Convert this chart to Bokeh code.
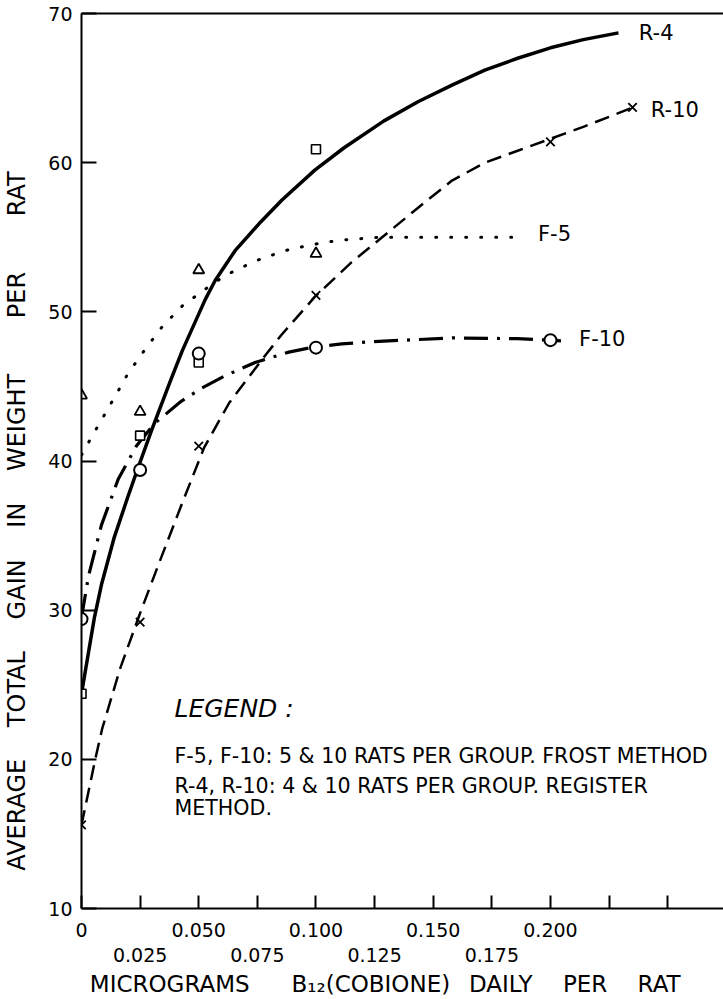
from bokeh.plotting import figure
from bokeh.models import Range1d, LinearAxis, FixedTicker, Label
from bokeh.embed import file_html
from bokeh.resources import INLINE

# ---------------- data ----------------
# measured points
r4_x = [0, 0.025, 0.05, 0.1]
r4_y = [24.4, 41.7, 46.6, 60.9]
r10_x = [0, 0.025, 0.05, 0.1, 0.2, 0.235]
r10_y = [15.6, 29.2, 41.0, 51.1, 61.4, 63.7]
f5_x = [0, 0.025, 0.05, 0.1]
f5_y = [44.4, 43.3, 52.8, 53.9]
f10_x = [0, 0.025, 0.05, 0.1, 0.2]
f10_y = [29.4, 39.4, 47.2, 47.6, 48.1]

# hand-drawn fitted curves
r4_curve_x = [0, 0.0055, 0.0085, 0.014, 0.020, 0.0247, 0.030, 0.038, 0.043, 0.0527,
              0.057, 0.0655, 0.0757, 0.0855, 0.0995, 0.112, 0.129, 0.1437, 0.158,
              0.172, 0.186, 0.200, 0.214, 0.229]
r4_curve_y = [24.4, 29.5, 31.7, 34.9, 37.7, 39.8, 42.1, 45.4, 47.4, 50.8,
              52.1, 54.1, 55.9, 57.5, 59.5, 61.0, 62.8, 64.1, 65.2,
              66.2, 67.0, 67.7, 68.25, 68.7]

r10_curve_x = [0, 0.006, 0.0089, 0.0165, 0.025, 0.0327, 0.0425, 0.0523, 0.063, 0.078,
               0.0855, 0.0995, 0.115, 0.129, 0.1437, 0.158, 0.172, 0.186, 0.200,
               0.214, 0.2287, 0.235]
r10_curve_y = [15.6, 20.1, 22.1, 26.1, 29.8, 33.0, 37.0, 40.9, 43.9, 47.0,
               48.5, 51.0, 53.3, 55.1, 57.0, 58.8, 60.0, 60.8, 61.6,
               62.4, 63.3, 63.7]

f5_curve_x = [0, 0.005, 0.0098, 0.016, 0.0196, 0.0272, 0.0344, 0.043,
              0.057, 0.0634, 0.074, 0.0867, 0.098, 0.110, 0.127, 0.15, 0.17, 0.189]
f5_curve_y = [40.4, 41.8, 43.1, 44.8, 45.8, 47.5, 49.0, 50.4,
              52.0, 52.6, 53.4, 54.1, 54.5, 54.8, 55.0, 55.0, 55.0, 55.0]

f10_curve_x = [0, 0.003, 0.0085, 0.0157, 0.0234, 0.031, 0.0425, 0.0514, 0.061, 0.074,
               0.0884, 0.0995, 0.111, 0.124, 0.158, 0.186, 0.200, 0.2045]
f10_curve_y = [29.5, 32.3, 35.7, 38.8, 41.0, 42.5, 44.0, 44.9, 45.7, 46.6,
               47.3, 47.65, 47.85, 48.0, 48.25, 48.2, 48.1, 48.05]

# axes
x_ticks = [0, 0.025, 0.05, 0.075, 0.1, 0.125, 0.15, 0.175, 0.2, 0.225, 0.25]
x_labels_upper = {0: "0", 0.05: "0.050", 0.1: "0.100", 0.15: "0.150", 0.2: "0.200"}
x_labels_lower = {0.025: "0.025", 0.075: "0.075", 0.125: "0.125", 0.175: "0.175"}
y_ticks = [10, 20, 30, 40, 50, 60, 70]

# curve names and end positions
curve_labels = ["R-4", "R-10", "F-5", "F-10"]
curve_label_x = [0.2377, 0.2428, 0.1947, 0.2122]
curve_label_y = [68.7, 63.5, 55.2, 48.2]

# titles (wide word spacing of the lettering kept with em/en spaces)
EM, EN = "\u2003", "\u2002"
y_title = ("AVERAGE " + EM + "TOTAL " + EM + "GAIN " + EM + "IN " + EM +
           "WEIGHT " + EM + EM + "PER " + EM + EM + "RAT" + EM * 5)
x_title = ("MICROGRAMS " + EM + EN + "B\u2081\u2082(COBIONE) " + EN + "DAILY " + EM +
           "PER " + EM + "RAT" + EM + EN)
legend_title = "LEGEND :"
legend_lines = ["F-5, F-10: 5 & 10 RATS PER GROUP. FROST METHOD",
                "R-4, R-10: 4 & 10 RATS PER GROUP. REGISTER",
                "METHOD."]

# ---------------- figure ----------------
FONT = "DejaVu Sans"
p = figure(width=723, height=999, output_backend="svg", toolbar_location=None,
           x_range=Range1d(0, 0.2738), y_range=Range1d(10, 70),
           x_axis_location=None, y_axis_location=None,
           min_border_left=79, min_border_right=0, min_border_top=13, min_border_bottom=89)
p.outline_line_color = None
p.grid.grid_line_color = None
p.background_fill_color = "white"
p.border_fill_color = "white"

def style_axis(ax):
    ax.axis_line_color = "black"
    ax.axis_line_width = 2
    ax.major_tick_line_color = "black"
    ax.major_tick_line_width = 2
    ax.minor_tick_line_color = None
    ax.major_tick_out = 0
    ax.major_label_text_font = FONT
    ax.major_label_text_font_size = "19px"
    ax.major_label_text_color = "black"
    ax.axis_label_text_font = FONT
    ax.axis_label_text_font_style = "normal"
    ax.axis_label_text_color = "black"

yax = LinearAxis(ticker=FixedTicker(ticks=y_ticks), axis_label=y_title)
style_axis(yax)
yax.major_tick_in = 15
yax.major_label_standoff = 9
yax.axis_label_text_font_size = "24px"
yax.axis_label_standoff = 14
p.add_layout(yax, "left")

xax = LinearAxis(ticker=FixedTicker(ticks=x_ticks),
                 major_label_overrides={t: x_labels_upper.get(t, "") for t in x_ticks})
style_axis(xax)
xax.major_tick_in = 13
xax.major_label_standoff = 14
p.add_layout(xax, "below")

xax2 = LinearAxis(ticker=FixedTicker(ticks=list(x_labels_lower.keys())),
                  major_label_overrides=dict(x_labels_lower), axis_label=x_title)
style_axis(xax2)
xax2.axis_line_color = None
xax2.major_tick_line_color = None
xax2.major_tick_in = 0
xax2.major_label_standoff = 8
xax2.axis_label_text_font_size = "23px"
xax2.axis_label_standoff = 6
p.add_layout(xax2, "below")

top = LinearAxis(ticker=FixedTicker(ticks=[]))
style_axis(top)
top.major_tick_in = 0
top.major_label_standoff = 0
top.major_label_text_font_size = "0px"
p.add_layout(top, "above")

# ---------------- curves ----------------
p.line(r4_curve_x, r4_curve_y, line_color="black", line_width=3.5, line_join="round")
p.line(r10_curve_x, r10_curve_y, line_color="black", line_width=2.5, line_dash="15 8")
p.line(f5_curve_x, f5_curve_y, line_color="black", line_width=3, line_dash="1 14",
       line_cap="round")
p.line(f10_curve_x, f10_curve_y, line_color="black", line_width=3.2, line_dash="24 9 3 9")

# ---------------- markers ----------------
p.scatter(r4_x, r4_y, marker="square", size=9, line_color="black", fill_color="white",
          line_width=1.6)
p.scatter(r10_x, r10_y, marker="x", size=12, line_color="black", line_width=1.8)
p.scatter(f5_x, f5_y, marker="triangle", size=11, line_color="black", fill_color="white",
          line_width=1.8)
p.scatter(f10_x, f10_y, marker="circle", size=12, line_color="black", fill_color="white",
          line_width=2)

# ---------------- texts ----------------
for name, lx, ly in zip(curve_labels, curve_label_x, curve_label_y):
    p.add_layout(Label(x=lx, y=ly, text=name, text_font=FONT, text_font_size="21px",
                       text_color="black", text_align="left", text_baseline="middle"))

# legend block (frame-relative screen units)
p.add_layout(Label(x=93, y=200, x_units="screen", y_units="screen", text=legend_title,
                   text_font=FONT, text_font_size="25px", text_font_style="italic",
                   text_color="black", text_align="left", text_baseline="middle"))
for line, sy in zip(legend_lines, [153, 123, 101]):
    p.add_layout(Label(x=93, y=sy, x_units="screen", y_units="screen", text=line,
                       text_font=FONT, text_font_size="20.6px", text_color="black",
                       text_align="left", text_baseline="middle"))

open("out.html", "w").write(file_html(p, INLINE))
